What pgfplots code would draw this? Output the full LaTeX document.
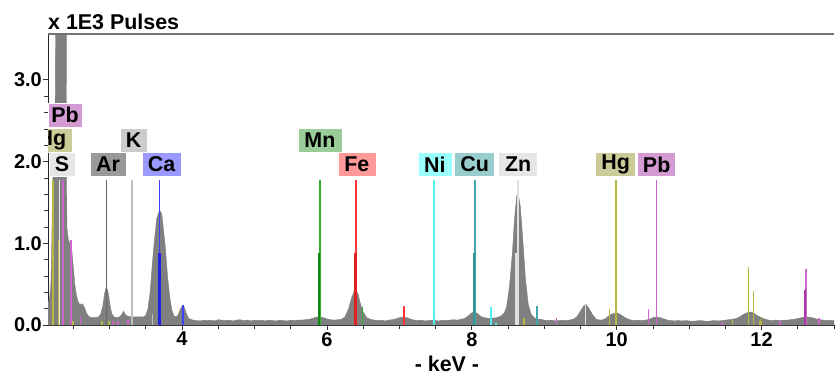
\documentclass[border=0pt]{standalone}
\usepackage{fontspec}
\setmainfont{Liberation Sans}
\usepackage{pgfplots}
\pgfplotsset{compat=1.18}
\definecolor{spec}{HTML}{808080}
\definecolor{hgl}{HTML}{B8B840}
\definecolor{pbl}{HTML}{CC66CC}
\definecolor{pbd}{HTML}{A838A8}
\definecolor{cal}{HTML}{4040FF}
\definecolor{cad}{HTML}{2020E0}
\definecolor{mnl}{HTML}{30B030}
\definecolor{mnd}{HTML}{108810}
\definecolor{fel}{HTML}{FF3434}
\definecolor{fed}{HTML}{E02020}
\definecolor{nil}{HTML}{50F0F0}
\definecolor{cul}{HTML}{40A8A8}
\definecolor{cud}{HTML}{309494}
\definecolor{znl}{HTML}{E0E0E0}
\definecolor{boxpb}{HTML}{D49AD4}
\definecolor{boxhg}{HTML}{CCCC99}
\definecolor{boxs}{HTML}{E6E6E6}
\definecolor{boxar}{HTML}{999999}
\definecolor{boxk}{HTML}{CCCCCC}
\definecolor{boxca}{HTML}{9999FF}
\definecolor{boxmn}{HTML}{99CC99}
\definecolor{boxfe}{HTML}{FF9999}
\definecolor{boxni}{HTML}{99FFFF}
\definecolor{boxcu}{HTML}{99CCCC}
\definecolor{boxzn}{HTML}{E6E6E6}
\begin{document}
\begin{tikzpicture}
\begin{axis}[
  scale only axis, width=786bp, height=291bp,
  xmin=2.15, xmax=13.0, ymin=0, ymax=3.56,
  axis lines*=left,
  axis line style={-, black!85, line width=0.8bp},
  tick align=outside,
  major tick length=5bp, minor tick length=4bp,
  every tick/.style={black!80, line width=0.6bp},
  xtick={4,6,8,10,12},
  minor xtick={2.5,3,3.5,4.5,5,5.5,6.5,7,7.5,8.5,9,9.5,10.5,11,11.5,12.5,13},
  ytick={0,1,2,3},
  minor y tick num=4,
  yticklabel style={/pgf/number format/fixed, /pgf/number format/fixed zerofill, /pgf/number format/precision=1, inner sep=1bp},
  xticklabel style={inner sep=2bp},
  /pgf/number format/assume math mode=true,
  tick label style={font=\fontsize{20}{24}\selectfont\bfseries},
  comb/.style={ycomb, color=#1, draw=#1, mark=none},
]
% spectrum
\addplot[fill=spec, draw=spec, line width=0.4bp] coordinates {
(2.15,0.27)(2.17,0.32)(2.19,0.5)(2.20,0.9)(2.21,1.5)(2.22,1.9)(2.23,2.1)(2.24,2.3)(2.25,2.8)(2.26,4.5)(2.40,4.5)
(2.41,1.2)(2.43,1.05)(2.45,1.0)(2.47,0.98)(2.48,0.9)(2.50,0.7)(2.52,0.5)(2.54,0.38)(2.56,0.3)(2.58,0.26)
(2.60,0.25)(2.62,0.26)(2.64,0.24)(2.66,0.2)(2.68,0.15)(2.70,0.12)(2.72,0.1)(2.75,0.09)(2.80,0.09)(2.85,0.1)
(2.88,0.14)(2.91,0.25)(2.93,0.38)(2.95,0.45)(2.97,0.44)(2.99,0.35)(3.01,0.22)(3.03,0.14)(3.06,0.1)(3.10,0.09)
(3.14,0.1)(3.17,0.13)(3.19,0.17)(3.21,0.14)(3.24,0.11)(3.30,0.1)(3.36,0.1)(3.42,0.1)(3.47,0.1)(3.50,0.12)
(3.53,0.2)(3.56,0.4)(3.59,0.75)(3.62,1.05)(3.65,1.3)(3.68,1.38)(3.70,1.39)(3.72,1.36)(3.74,1.2)(3.77,0.95)
(3.80,0.6)(3.83,0.35)(3.86,0.18)(3.89,0.11)(3.92,0.1)(3.95,0.13)(3.98,0.2)(4.01,0.24)(4.03,0.22)(4.06,0.14)
(4.09,0.08)(4.15,0.06)(4.20,0.055)(4.25,0.05)(4.30,0.06)(4.35,0.055)(4.40,0.06)(4.45,0.05)(4.50,0.065)
(4.55,0.06)(4.60,0.055)(4.65,0.06)(4.70,0.05)(4.75,0.06)(4.80,0.065)(4.85,0.055)(4.90,0.06)(4.95,0.05)
(5.00,0.06)(5.05,0.055)(5.10,0.06)(5.15,0.05)(5.20,0.06)(5.25,0.055)(5.30,0.05)(5.35,0.06)(5.40,0.055)
(5.45,0.05)(5.50,0.06)(5.55,0.055)(5.60,0.06)(5.65,0.06)(5.70,0.065)(5.75,0.07)(5.80,0.08)(5.85,0.095)
(5.90,0.1)(5.95,0.09)(6.00,0.075)(6.05,0.065)(6.10,0.06)(6.15,0.065)(6.20,0.07)(6.25,0.1)(6.30,0.2)
(6.34,0.33)(6.38,0.42)(6.40,0.43)(6.43,0.38)(6.46,0.27)(6.50,0.16)(6.55,0.09)(6.60,0.07)(6.65,0.06)
(6.70,0.055)(6.75,0.06)(6.80,0.05)(6.85,0.06)(6.90,0.065)(6.95,0.075)(7.00,0.09)(7.06,0.1)(7.12,0.085)
(7.18,0.065)(7.25,0.055)(7.30,0.06)(7.35,0.05)(7.40,0.055)(7.45,0.06)(7.50,0.055)(7.55,0.05)(7.60,0.06)
(7.65,0.055)(7.70,0.06)(7.75,0.065)(7.80,0.06)(7.85,0.07)(7.90,0.08)(7.95,0.11)(8.00,0.15)(8.04,0.16)
(8.08,0.14)(8.13,0.1)(8.20,0.085)(8.25,0.08)(8.30,0.085)(8.35,0.09)(8.40,0.11)(8.45,0.15)(8.48,0.22)
(8.52,0.47)(8.56,0.88)(8.59,1.3)(8.62,1.58)(8.64,1.61)(8.67,1.45)(8.70,1.1)(8.74,0.57)(8.78,0.25)
(8.82,0.13)(8.86,0.09)(8.90,0.075)(8.95,0.07)(9.00,0.06)(9.05,0.055)(9.10,0.06)(9.15,0.05)(9.20,0.055)
(9.25,0.06)(9.30,0.055)(9.35,0.06)(9.40,0.07)(9.45,0.1)(9.50,0.17)(9.55,0.24)(9.58,0.25)(9.62,0.2)
(9.67,0.12)(9.72,0.07)(9.77,0.06)(9.81,0.065)(9.85,0.08)(9.90,0.12)(9.95,0.14)(10.00,0.15)(10.05,0.13)
(10.10,0.1)(10.15,0.075)(10.20,0.06)(10.25,0.055)(10.30,0.06)(10.35,0.055)(10.40,0.06)(10.45,0.07)
(10.50,0.09)(10.55,0.1)(10.60,0.09)(10.65,0.075)(10.70,0.06)(10.75,0.055)(10.80,0.05)(10.85,0.055)
(10.90,0.05)(10.95,0.055)(11.00,0.05)(11.05,0.045)(11.10,0.05)(11.15,0.055)(11.20,0.05)(11.25,0.045)
(11.30,0.05)(11.35,0.055)(11.40,0.05)(11.45,0.055)(11.50,0.06)(11.55,0.065)(11.60,0.07)(11.65,0.08)
(11.70,0.1)(11.75,0.13)(11.80,0.15)(11.85,0.16)(11.90,0.14)(11.95,0.11)(12.00,0.09)(12.05,0.07)
(12.10,0.06)(12.15,0.055)(12.20,0.06)(12.25,0.055)(12.30,0.06)(12.35,0.06)(12.40,0.065)(12.45,0.07)
(12.50,0.08)(12.55,0.09)(12.62,0.1)(12.70,0.09)(12.75,0.075)(12.80,0.065)(12.85,0.06)(12.90,0.055)
(12.95,0.06)(13.00,0.055)
} \closedcycle;
% element lines
\addplot[comb=hgl, line width=1.8bp] coordinates {(2.22,1.77)(9.99,1.77)(2.30,1.04)(9.90,0.19)(11.82,0.71)(11.89,0.42)(8.72,0.08)(12.0,0.08)(2.9,0.05)(2.99,0.05)(11.6,0.06)(11.98,0.05)(2.5,0.05)};
\addplot[comb=pbl, line width=1.8bp] coordinates {(2.36,1.77)(10.55,1.77)(2.47,1.04)(10.44,0.2)(12.61,0.69)(9.17,0.08)(12.79,0.08)(2.60,0.1)(3.05,0.05)(3.12,0.05)(3.25,0.06)(12.25,0.05)(11.45,0.04)};
\addplot[comb=pbd, line width=2bp] coordinates {(12.605,0.43)};
\addplot[comb=boxs, line width=1.8bp] coordinates {(2.31,1.77)};
\addplot[comb=black!60, line width=1.4bp] coordinates {(2.96,1.77)};
\addplot[comb=black!25, line width=1.4bp] coordinates {(3.31,1.77)(3.59,0.13)};
\addplot[comb=cal, line width=1.8bp] coordinates {(3.69,1.77)(4.01,0.24)};
\addplot[comb=cad, line width=2.2bp] coordinates {(3.69,0.88)};
\addplot[comb=mnl, line width=1.8bp] coordinates {(5.90,1.77)(6.49,0.22)};
\addplot[comb=mnd, line width=2.2bp] coordinates {(5.895,0.88)};
\addplot[comb=fel, line width=1.8bp] coordinates {(6.40,1.77)(7.06,0.23)};
\addplot[comb=fed, line width=2.2bp] coordinates {(6.395,0.88)};
\addplot[comb=nil, line width=1.8bp] coordinates {(7.48,1.77)(7.475,0.88)(8.26,0.22)(8.33,0.03)};
\addplot[comb=cul, line width=1.8bp] coordinates {(8.04,1.77)(8.90,0.23)};
\addplot[comb=cud, line width=2.2bp] coordinates {(8.035,0.88)};
\addplot[comb=znl, line width=1.8bp] coordinates {(8.635,1.77)(8.61,0.88)(9.57,0.25)};
% label boxes
\tikzset{lab/.style={fill=#1, draw=white, line width=0.6bp, inner xsep=0pt, inner ysep=0pt, minimum height=24bp, font=\fontsize{21.5}{24}\selectfont\bfseries, text=black}}
\node[lab=boxpb, minimum width=34bp] at (axis cs:2.386,2.57) {Pb};
\node[lab=boxhg, minimum width=40bp, anchor=east] at (axis cs:2.483,2.264) {Hg};
\node[lab=boxs, minimum width=26bp] at (axis cs:2.345,1.965) {S};
\node[lab=boxar, minimum width=36bp] at (axis cs:2.979,1.965) {Ar};
\node[lab=boxk, minimum width=27bp] at (axis cs:3.331,2.264) {K};
\node[lab=boxca, minimum width=39bp] at (axis cs:3.717,1.965) {Ca};
\node[lab=boxmn, minimum width=44bp] at (axis cs:5.903,2.264) {Mn};
\node[lab=boxfe, minimum width=38bp] at (axis cs:6.414,1.965) {Fe};
\node[lab=boxni, minimum width=34bp] at (axis cs:7.490,1.965) {Ni};
\node[lab=boxcu, minimum width=40bp] at (axis cs:8.041,1.965) {Cu};
\node[lab=boxzn, minimum width=39bp] at (axis cs:8.641,1.965) {Zn};
\node[lab=boxhg, minimum width=40bp] at (axis cs:9.986,1.965) {Hg};
\node[lab=boxpb, minimum width=38bp] at (axis cs:10.552,1.965) {Pb};
\coordinate (bl) at (rel axis cs:0,0);
\coordinate (tr) at (rel axis cs:1,1);
\coordinate (tl) at (rel axis cs:0,1);
\end{axis}
\draw[black!55, line width=1.6bp] (tl) -- (tr);
\node[anchor=base west, inner sep=0pt, font=\fontsize{21.5}{24}\selectfont\bfseries] at ([yshift=4bp]tl) {x 1E3 Pulses};
\node[anchor=base, inner sep=0pt, font=\fontsize{21.5}{24}\selectfont\bfseries] at ([shift={(399bp,-46bp)}]bl) {- keV -};
\pgfresetboundingbox
\path ([shift={(-48bp,-52bp)}]bl) rectangle ([shift={(1bp,34bp)}]tr);
\end{tikzpicture}
\end{document}
